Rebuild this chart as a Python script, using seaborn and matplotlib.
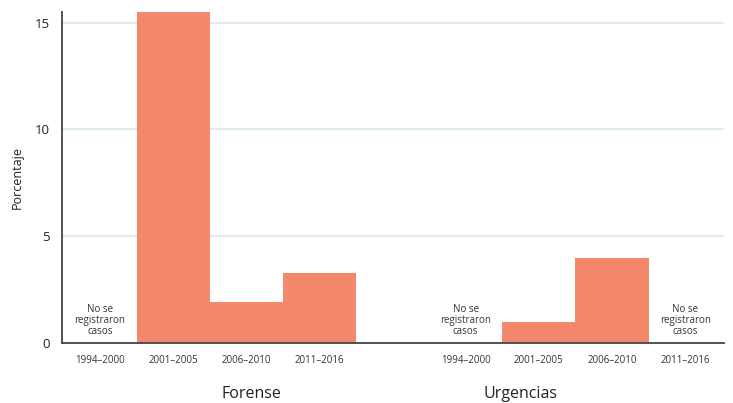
import pandas as pd
import numpy as np
import matplotlib.pyplot as plt
import seaborn as sns

# datos
periodos = ['1994–2000', '2001–2005', '2006–2010', '2011–2016']
grupos = ['Forense', 'Urgencias']
forense = [0, 15.5, 1.9, 3.3]
urgencias = [0, 1.0, 4.0, 0]
sin_casos = [(0, 0), (1, 0), (1, 3)]  # (grupo, periodo) sin registros

# posiciones: dos grupos separados por un hueco
posiciones = [0, 1, 2, 3, 5, 6, 7, 8]
df = pd.DataFrame({
    'pos': posiciones,
    'valor': forense + urgencias,
    'periodo': periodos * 2,
})

sns.set_style('white')
plt.rcParams['font.family'] = ['Open Sans', 'DejaVu Sans']

fig = plt.figure(figsize=(7.33, 4.03), dpi=100)
ax = fig.add_axes([0.0846, 0.149, 0.903, 0.821])

sns.barplot(data=df, x='pos', y='valor', native_scale=True, width=1.0,
            color='#f4886c', saturation=1, edgecolor='none', ax=ax, zorder=2)

ax.set_xlim(-0.52, 8.53)
ax.set_ylim(0, 15.5)
ax.set_yticks([0, 5, 10, 15])
ax.set_xticks(posiciones)
ax.set_xticklabels(periodos * 2, fontsize=7, color='#333333')
ax.tick_params(axis='y', labelsize=9.5, colors='#333333', length=5, width=1, direction='out')
ax.tick_params(axis='x', length=5, width=1, direction='out', color='#333333', pad=4)
for t in ax.get_yticklabels():
    t.set_color('#222222')

ax.yaxis.grid(True, color='#d6e9ef', linewidth=1.2, zorder=0)
ax.set_axisbelow(True)
sns.despine(ax=ax, top=True, right=True)
for s in ['left', 'bottom']:
    ax.spines[s].set_color('#444444')
    ax.spines[s].set_linewidth(1.3)

ax.set_xlabel('')
ax.set_ylabel('Porcentaje', fontsize=9, color='#222222', labelpad=8)

for g, p in sin_casos:
    x = posiciones[g * 4 + p]
    ax.text(x, 1.05, 'No se\nregistraron\ncasos', ha='center', va='center',
            fontsize=7, color='#333333', linespacing=1.05)

# etiquetas de grupo
ax.text(2.07, -2.4, grupos[0], ha='center', va='center', fontsize=11.5, color='#222222')
ax.text(5.75, -2.4, grupos[1], ha='center', va='center', fontsize=11.5, color='#222222')

fig.savefig('out.png', dpi=100)
